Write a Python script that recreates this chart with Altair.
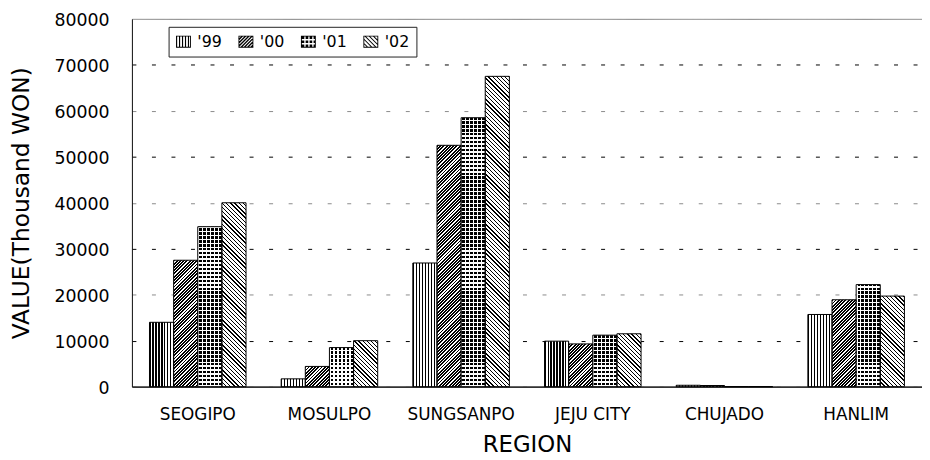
import altair as alt
import pandas as pd

# ---------------- data ----------------
regions = ["SEOGIPO", "MOSULPO", "SUNGSANPO", "JEJU CITY", "CHUJADO", "HANLIM"]
years = ["'99", "'00", "'01", "'02"]
v99 = [14000, 1700, 26900, 9900, 300, 15700]
v00 = [27500, 4400, 52500, 9300, 250, 18900]
v01 = [34800, 8500, 58500, 11200, 0, 22200]
v02 = [40000, 10000, 67500, 11500, 0, 19700]
y_ticks = [0, 10000, 20000, 30000, 40000, 50000, 60000, 70000, 80000]

series = [v99, v00, v01, v02]
rows = []
for k, (yr, vals) in enumerate(zip(years, series)):
    for r, v in zip(regions, vals):
        rows.append({"region": r, "year": yr, "k": k, "value": v})
df = pd.DataFrame(rows)

# ---------------- layout ----------------
W, H = 797, 371
PAD_IN, PAD_OUT = 0.267, 0.1335
YMAX = 80000
FONT = "DejaVu Sans"

bar_w = (W / len(regions)) * (1 - PAD_IN) / len(years)   # pixel width of one bar
KPX = H / YMAX                                             # pixels per unit


# ---------------- hatch fills (SVG linear gradients with hard stops) ----------------
def stops(n, frac, c1, c2):
    out = []
    for i in range(n):
        a, b, c = i / n, (i + frac) / n, (i + 1) / n
        out += [(a, c1), (b, c1), (b, c2), (c, c2)]
    return "[" + ",".join("{offset:%.5f,color:'%s'}" % (o, col) for o, col in out) + "]"


h = "max(datum.value*%.8f,0.5)" % KPX
w = "%.5f" % bar_w
ww = "%.5f" % (bar_w * bar_w)

# '99 vertical lines
N0, T0 = 10, 3.0
g99 = "{gradient:'linear',x1:0,y1:0,x2:%.5f,y2:0,stops:%s}" % (
    N0 * T0 / bar_w, stops(N0, 0.38, "#000", "#fff"))
# '00 "/" dense dark hatch
N1, T1 = 90, 3.3
NT1 = N1 * T1
g00 = ("{gradient:'linear',x1:0,y1:0,x2:%.3f*%s/(%s+pow(%s,2)),y2:%.3f*%s/(%s+pow(%s,2)),stops:%s}"
       % (NT1, w, ww, h, NT1, h, ww, h, stops(N1, 0.58, "#000", "#fff")))
# '01 dotted grid: vertical black columns (+ white horizontal overlay)
N2, T2 = 7, 4.0
g01 = "{gradient:'linear',x1:0,y1:0,x2:%.5f,y2:0,stops:%s}" % (
    N2 * T2 / bar_w, stops(N2, 0.34, "#fff", "#000"))
# '02 "\" light hatch
N3, T3 = 84, 4.2
NT3 = N3 * T3
g02 = ("{gradient:'linear',x1:0,y1:1,x2:%.3f*%s/(%s+pow(%s,2)),y2:1-%.3f*%s/(%s+pow(%s,2)),stops:%s}"
       % (NT3, w, ww, h, NT3, h, ww, h, stops(N3, 0.32, "#000", "#fff")))
fill_expr = "datum.k==0?%s:datum.k==1?%s:datum.k==2?%s:%s" % (g99, g00, g01, g02)

N4, T4 = 72, 4.0
over01 = "{gradient:'linear',x1:0,y1:1,x2:0,y2:1-%.3f/%s,stops:%s}" % (
    N4 * T4, h, stops(N4, 0.34, "rgba(255,255,255,1)", "rgba(255,255,255,0)"))
over_expr = "datum.k==2?%s:'transparent'" % over01


# ---------------- legend symbols (custom SVG paths, unit box) ----------------
def clip(poly, a, b, c):
    out = []
    n = len(poly)
    for i in range(n):
        P, Q = poly[i], poly[(i + 1) % n]
        fp = a * P[0] + b * P[1] - c
        fq = a * Q[0] + b * Q[1] - c
        if fp <= 0:
            out.append(P)
        if (fp < 0 < fq) or (fq < 0 < fp):
            t = fp / (fp - fq)
            out.append((P[0] + t * (Q[0] - P[0]), P[1] + t * (Q[1] - P[1])))
    return out


YH = 0.8
RECT = [(-1, -YH), (1, -YH), (1, YH), (-1, YH)]
FRAME = "M-1,-0.8L1,-0.8L1,0.8L-1,0.8Z M-0.88,-0.68L-0.88,0.68L0.88,0.68L0.88,-0.68Z"


def poly_path(p):
    if len(p) < 3:
        return ""
    return "M" + "L".join("%.3f,%.3f" % q for q in p) + "Z"


def band_path(a, b, lo, hi, period, width):
    parts = []
    c = lo
    while c < hi:
        p = clip(RECT, a, b, c + width)
        p = clip(p, -a, -b, -c)
        parts.append(poly_path(p))
        c += period
    return " ".join(x for x in parts if x)


def dots_path(period, size):
    parts = []
    y = -YH + 0.1
    while y < YH:
        x = -1 + 0.1
        while x < 1:
            p = [(x, y), (x + size, y), (x + size, y + size), (x, y + size)]
            p = clip(p, 1, 0, 1)
            p = clip(p, 0, 1, YH)
            parts.append(poly_path(p))
            x += period
        y += period
    return " ".join(x for x in parts if x)


U = 7.5  # px per unit for a 15px wide symbol
shape_paths = [
    FRAME + " " + band_path(1, 0, -1, 1, T0 / U, 0.38 * T0 / U),
    FRAME + " " + band_path(1, 1, -1.8, 1.8, T1 / U, 0.58 * T1 / U),
    FRAME + " " + dots_path(T2 / U, 0.66 * T2 / U),
    FRAME + " " + band_path(1, -1, -1.8, 1.8, T3 / U, 0.32 * T3 / U),
]

# ---------------- chart ----------------
x_enc = alt.X(
    "region:N", sort=regions, title="REGION",
    scale=alt.Scale(paddingInner=PAD_IN, paddingOuter=PAD_OUT),
    axis=alt.Axis(labelAngle=0, ticks=False, tickSize=0, labelPadding=20,
                  labelFontSize=17, labelFont=FONT, labelColor="black",
                  titleFont=FONT, titleFontSize=23, titleFontWeight="normal",
                  titleColor="black", titlePadding=11,
                  domainColor="#333", domainWidth=1.6),
)
xo_enc = alt.XOffset("year:N", sort=years, scale=alt.Scale(paddingInner=0, paddingOuter=0))
y_enc = alt.Y(
    "value:Q", stack=None, title="VALUE(Thousand WON)",
    scale=alt.Scale(domain=[0, YMAX], nice=False),
    axis=alt.Axis(values=y_ticks, format="d", ticks=False, tickSize=0, labelPadding=23,
                  labelOffset=2,
                  labelFontSize=17.5, labelFont=FONT, labelColor="black",
                  titleFont=FONT, titleFontSize=23.5, titleFontWeight="normal",
                  titleColor="black", titlePadding=21,
                  domainColor="#111", domainWidth=1,
                  grid=True,
                  gridColor={"condition": {"test": "datum.value % 20000 === 0", "value": "#8a8a8a"},
                             "value": "#000"},
                  gridDash={"condition": {"test": "datum.value === 80000", "value": [1, 0]},
                            "value": [4, 15.7]},
                  gridWidth=1),
)

base = alt.Chart(df).encode(x=x_enc, xOffset=xo_enc, y=y_enc)

fill_layer = base.transform_calculate(g=fill_expr).mark_bar(strokeWidth=0).encode(
    fill=alt.Fill("g:N", scale=None, legend=None)
)
over_layer = base.transform_calculate(g2=over_expr).mark_bar(
    stroke="black", strokeWidth=1
).encode(fill=alt.Fill("g2:N", scale=None, legend=None))

legend_layer = alt.Chart(df).transform_filter("false").mark_point(
    filled=True, fill="black", opacity=1, size=225, strokeWidth=0
).encode(
    shape=alt.Shape(
        "year:N",
        scale=alt.Scale(domain=years, range=shape_paths),
        legend=alt.Legend(
            orient="none", legendX=37, legendY=8, direction="horizontal", title=None,
            strokeColor="#222", fillColor="white", padding=7,
            labelFont=FONT, labelFontSize=16, labelColor="black", labelOffset=6,
            columnPadding=16, symbolSize=225, symbolStrokeWidth=0,
        ),
    )
)

chart = alt.layer(fill_layer, over_layer, legend_layer).properties(
    width=W, height=H,
    autosize=alt.AutoSizeParams(type="none"),
    padding={"left": 125, "top": 9, "right": 0, "bottom": 71},
).configure_view(stroke=None).configure(background="white")

chart.save("out.html", embed_options={"renderer": "svg", "actions": False})
